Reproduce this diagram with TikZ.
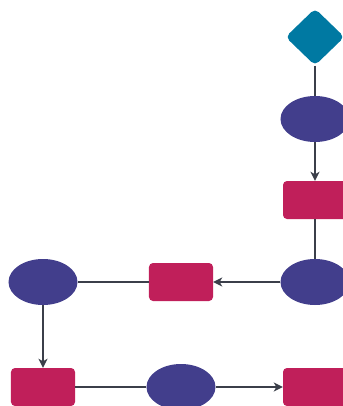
\documentclass[tikz,border=0pt]{standalone}
\usetikzlibrary{shapes.geometric,arrows.meta}
\definecolor{teal}{HTML}{0079A2}
\definecolor{indigo}{HTML}{423E8C}
\definecolor{crimson}{HTML}{C01F5A}
\definecolor{wire}{HTML}{3B3F4A}
\tikzset{
  decision/.style={diamond,fill=teal,minimum width=59bp,minimum height=57bp,inner sep=0pt,rounded corners=5bp},
  oval/.style={ellipse,fill=indigo,minimum width=69bp,minimum height=46bp,inner sep=0pt},
  task/.style={rectangle,fill=crimson,minimum width=64bp,minimum height=38bp,inner sep=0pt,rounded corners=4bp},
  link/.style={draw=wire,line width=1.4bp},
  flow/.style={link,-{Stealth[length=9bp,width=9bp,inset=2.5bp]}}
}
\begin{document}
\begin{tikzpicture}[x=1bp,y=-1bp]
  \useasboundingbox (0,0) rectangle (343,406);
  % right column, top to bottom
  \node[decision] (d1) at (315,37) {};
  \node[oval] (e1) at (315,119) {};
  \node[task] (t1) at (315,200) {};
  \node[oval] (e2) at (315,282) {};
  % middle row, right to left
  \node[task] (t2) at (181,282) {};
  \node[oval] (e3) at (43,282) {};
  % bottom row, left to right
  \node[task] (t3) at (43,387) {};
  \node[oval] (e4) at (181,387) {};
  \node[task] (t4) at (315,387) {};
  % connectors
  \draw[link] (d1) -- (e1);
  \draw[flow] (e1) -- (t1);
  \draw[link] (t1) -- (e2);
  \draw[flow] (e2) -- (t2);
  \draw[link] (t2) -- (e3);
  \draw[flow] (e3) -- (t3);
  \draw[link] (t3) -- (e4);
  \draw[flow] (e4) -- (t4);
\end{tikzpicture}
\end{document}
